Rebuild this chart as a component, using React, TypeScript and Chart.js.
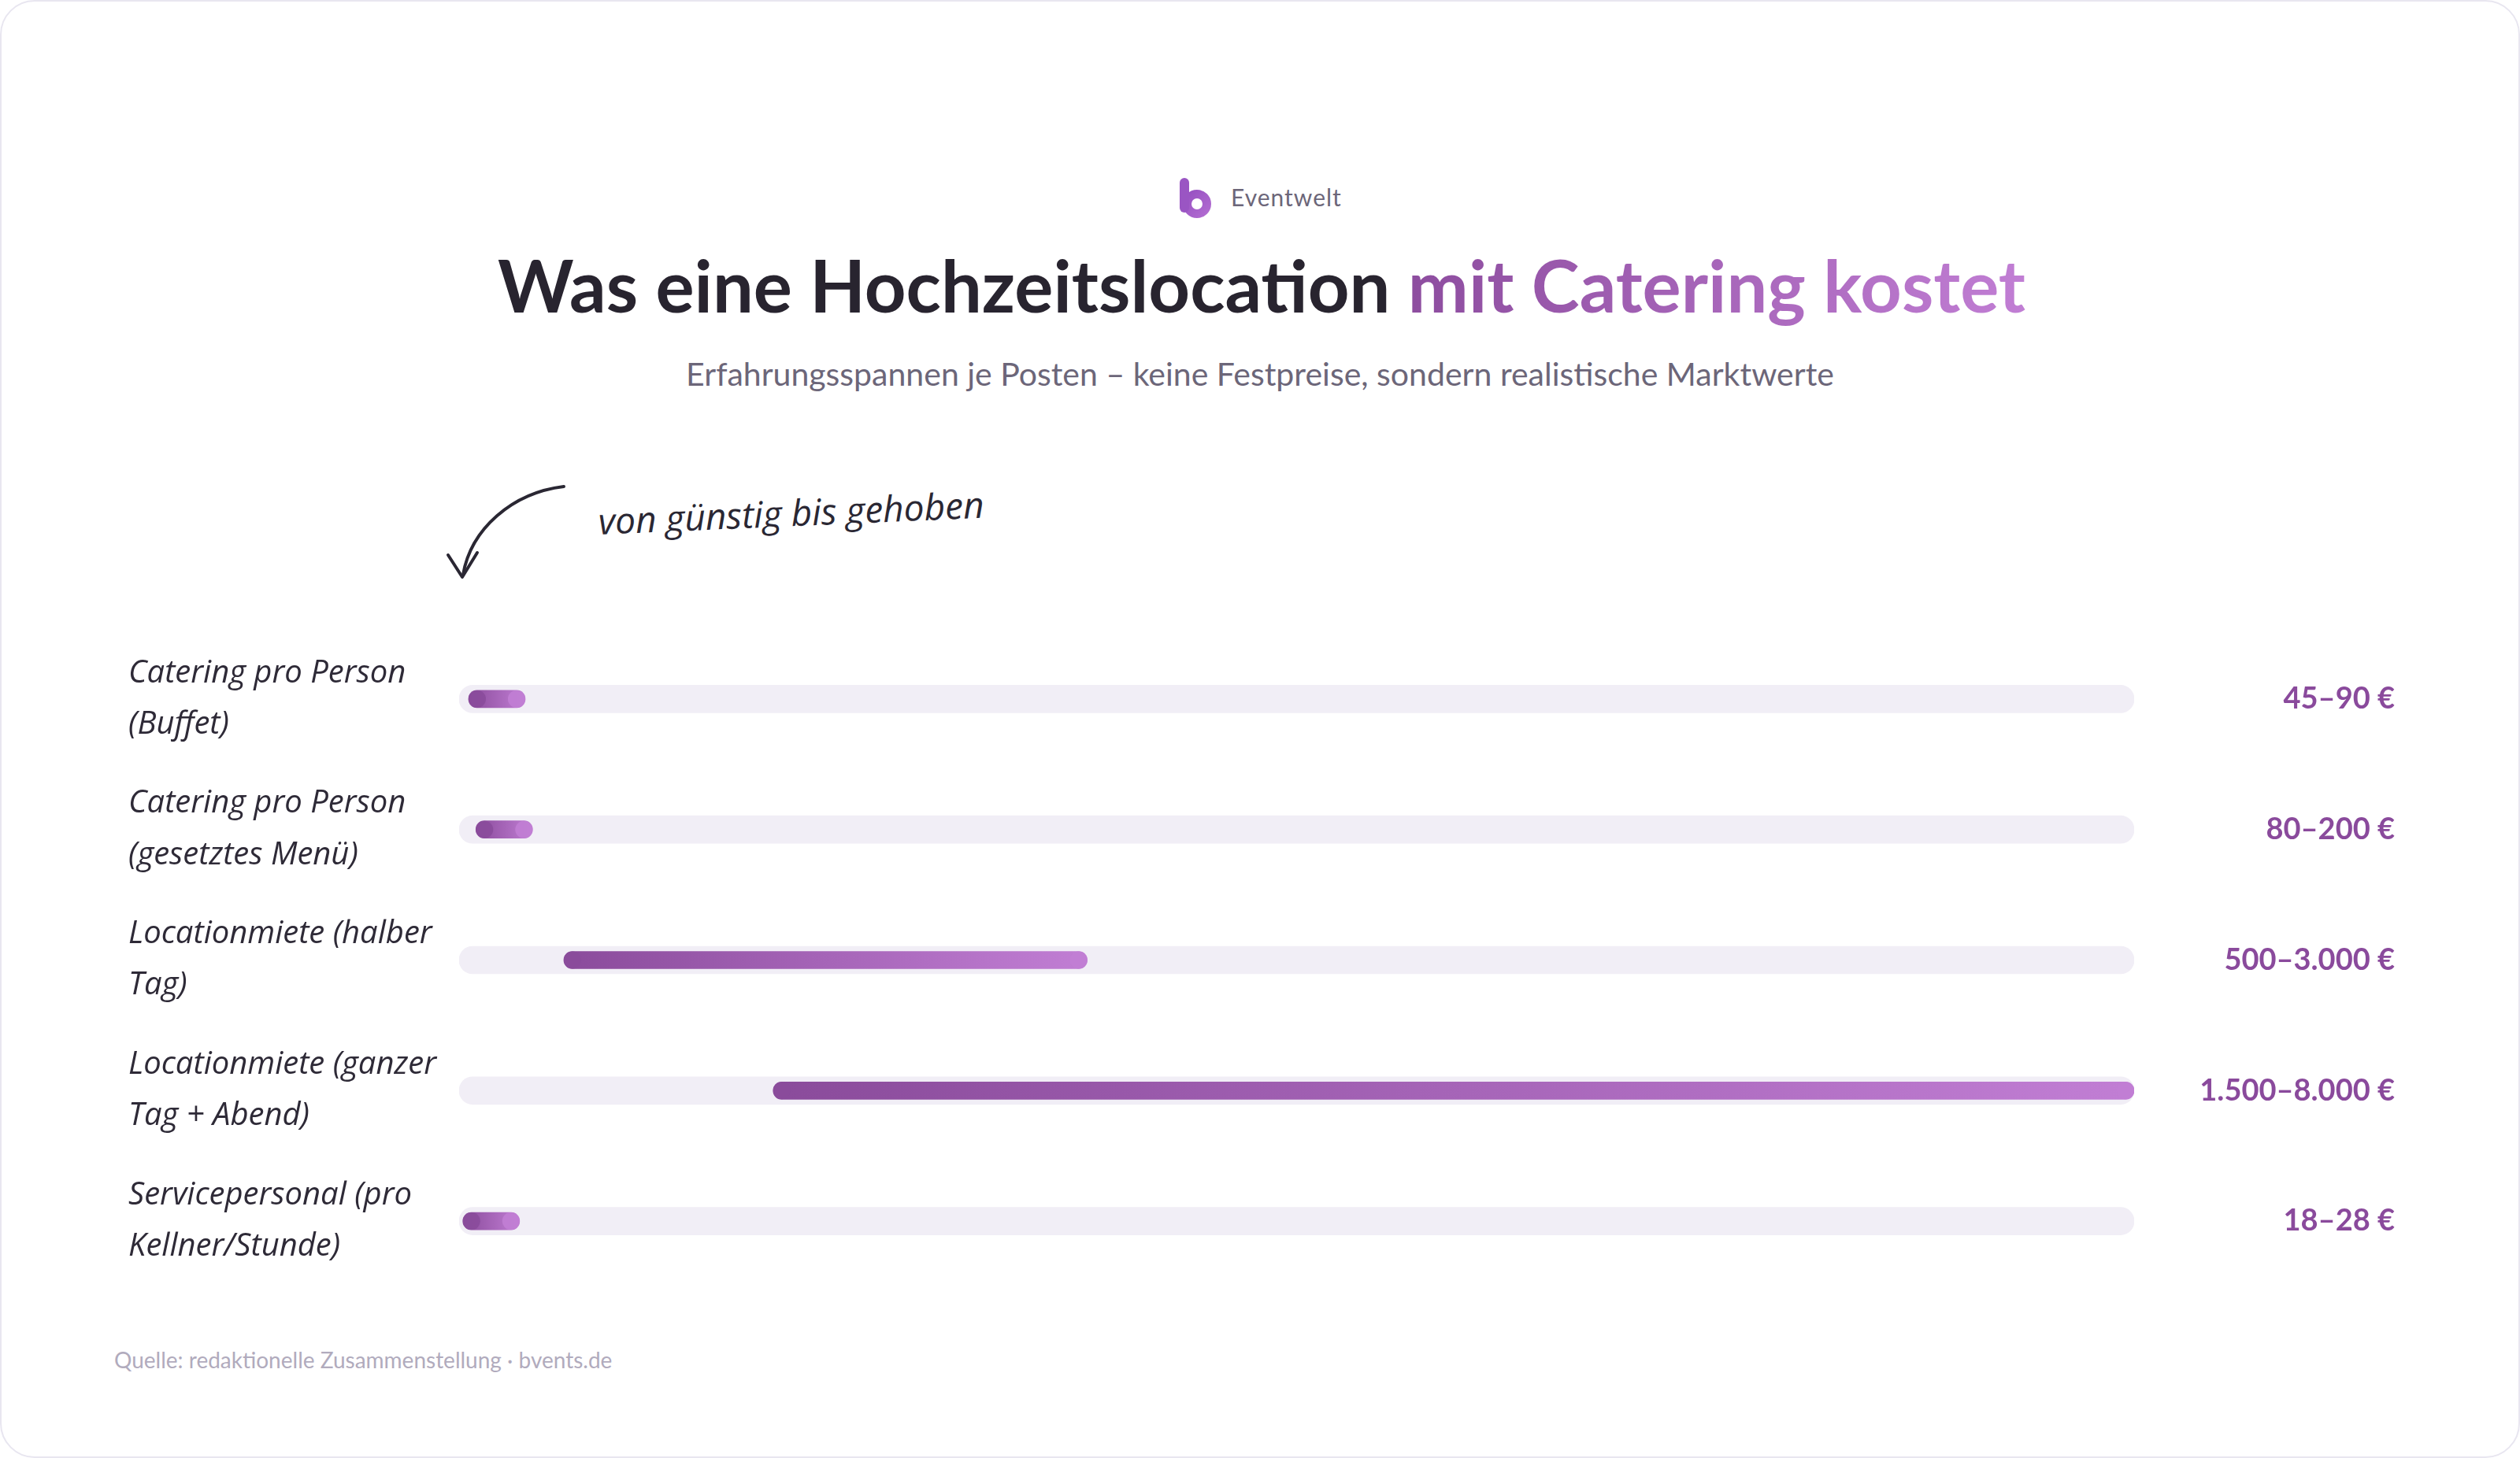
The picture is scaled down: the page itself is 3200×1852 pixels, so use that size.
import React, { useEffect, useRef } from 'react';
import { Chart, registerables } from 'chart.js';

Chart.register(...registerables);

// Cost items (two-line labels) and their price ranges in euro
const CATEGORIES: string[][] = [
  ['Catering pro Person', '(Buffet)'],
  ['Catering pro Person', '(gesetztes Menü)'],
  ['Locationmiete (halber', 'Tag)'],
  ['Locationmiete (ganzer', 'Tag + Abend)'],
  ['Servicepersonal (pro', 'Kellner/Stunde)'],
];
const RANGE_LOW: number[] = [45, 80, 500, 1500, 18];
const RANGE_HIGH: number[] = [90, 200, 3000, 8000, 28];

// Common value axis shared by all rows
const SCALE_MIN = 0;
const SCALE_MAX = 8000;

const formatThousands = (n: number) => String(n).replace(/\B(?=(\d{3})+(?!\d))/g, '.');
const VALUE_LABELS: string[] = RANGE_LOW.map(
  (lo, i) => `${formatThousands(lo)}–${formatThousands(RANGE_HIGH[i])} €`
);

const INK = '#28242f';
const MUTED = '#6c6679';
const PURPLE_DARK = '#8a4b9b';
const PURPLE_LIGHT = '#c17ed4';
const TRACK = '#f1eef6';
const VALUE_COLOR = '#8a4a9c';
const MIN_BAR_PX = 72;
const BAR_THICKNESS = 22;

// Gives short ranges a visible minimum length and paints each range with its own gradient
const rangeStyling = {
  id: 'rangeStyling',
  afterDatasetsUpdate(chart: any) {
    const meta = chart.getDatasetMeta(0);
    const ctx = chart.ctx as CanvasRenderingContext2D;
    meta.data.forEach((el: any) => {
      if (el.x - el.base < MIN_BAR_PX) el.x = el.base + MIN_BAR_PX;
      const g = ctx.createLinearGradient(el.base, 0, el.x, 0);
      g.addColorStop(0, PURPLE_DARK);
      g.addColorStop(1, PURPLE_LIGHT);
      el.options = Object.assign({}, el.options, { backgroundColor: g });
    });
  },
  afterDatasetDraw(chart: any, args: any) {
    if (args.index !== 0) return;
    const ctx = chart.ctx as CanvasRenderingContext2D;
    const r = BAR_THICKNESS / 2;
    args.meta.data.forEach((el: any) => {
      ctx.save();
      ctx.globalAlpha = 0.9;
      ctx.fillStyle = PURPLE_DARK;
      ctx.beginPath();
      ctx.arc(el.base + r, el.y, r, 0, Math.PI * 2);
      ctx.fill();
      ctx.fillStyle = PURPLE_LIGHT;
      ctx.beginPath();
      ctx.arc(el.x - r, el.y, r, 0, Math.PI * 2);
      ctx.fill();
      ctx.restore();
    });
  },
};

// Fixed label column widths; the tall two-line labels must not shrink the plot area
const fixedWidth = (w: number) => (scale: any) => {
  scale.width = w;
  scale.paddingTop = 0;
  scale.paddingBottom = 0;
};

export default function App() {
  const canvasRef = useRef<HTMLCanvasElement>(null);

  useEffect(() => {
    document.body.style.margin = '0';
    const canvas = canvasRef.current;
    if (!canvas) return;
    const chart = new Chart(canvas, {
      type: 'bar',
      data: {
        labels: CATEGORIES as any,
        datasets: [
          {
            label: 'Spanne',
            data: RANGE_LOW.map((lo, i) => [lo, RANGE_HIGH[i]]) as any,
            backgroundColor: PURPLE_DARK,
            barThickness: BAR_THICKNESS,
            borderRadius: BAR_THICKNESS / 2,
            borderSkipped: false,
            grouped: false,
            order: 1,
          },
          {
            label: 'Skala',
            data: RANGE_LOW.map(() => [SCALE_MIN, SCALE_MAX]) as any,
            backgroundColor: TRACK,
            barThickness: 35,
            borderRadius: 18,
            borderSkipped: false,
            grouped: false,
            order: 2,
          },
        ],
      },
      options: {
        indexAxis: 'y',
        responsive: false,
        devicePixelRatio: 1,
        animation: false,
        layout: { padding: { left: 163, right: 159, top: 25, bottom: 26 } },
        plugins: {
          legend: { display: false },
          tooltip: { enabled: false },
        },
        scales: {
          x: { type: 'linear', min: SCALE_MIN, max: SCALE_MAX, display: false },
          y: {
            type: 'category',
            position: 'left',
            offset: true,
            grid: { display: false },
            border: { display: false },
            ticks: {
              crossAlign: 'far',
              padding: 0,
              color: '#2e2a37',
              font: { family: "'Open Sans', sans-serif", style: 'italic', size: 40, lineHeight: 1.63 },
            },
            afterFit: fixedWidth(420),
          },
          yValues: {
            type: 'category',
            position: 'right',
            labels: VALUE_LABELS,
            offset: true,
            grid: { display: false },
            border: { display: false },
            ticks: {
              crossAlign: 'far',
              padding: 0,
              color: VALUE_COLOR,
              font: { family: 'Lato, sans-serif', weight: 'bold', size: 38 },
            },
            afterFit: fixedWidth(331),
          },
        } as any,
      },
      plugins: [rangeStyling],
    });
    return () => chart.destroy();
  }, []);

  return (
    <div
      style={{
        position: 'absolute',
        left: 0,
        top: 0,
        width: 3200,
        height: 1852,
        background: '#ffffff',
        overflow: 'hidden',
        fontFamily: 'Lato, sans-serif',
      }}
    >
      <div
        style={{
          position: 'absolute',
          left: 0,
          top: 0,
          width: 3200,
          height: 1852,
          border: '2px solid #e8e6f0',
          borderRadius: 44,
          boxSizing: 'border-box',
        }}
      />
      <svg
        width={3200}
        height={1852}
        viewBox="0 0 3200 1852"
        style={{ position: 'absolute', left: 0, top: 0 }}
      >
        <defs>
          <linearGradient id="logoGrad" x1="0" y1="0" x2="1" y2="1">
            <stop offset="0" stopColor="#9852c2" />
            <stop offset="1" stopColor="#b06ad0" />
          </linearGradient>
        </defs>
        {/* brand mark */}
        <circle cx={1520} cy={259} r={12.5} fill="none" stroke="url(#logoGrad)" strokeWidth={11} />
        <rect x={1498} y={226} width={12} height={44} rx={6} fill="#9a55c3" />
        {/* hand-drawn pointer */}
        <path
          d="M716 618 C 650 626, 598 672, 588 730"
          fill="none"
          stroke="#2a2733"
          strokeWidth={4}
          strokeLinecap="round"
        />
        <path
          d="M569 705 L 587 733 L 606 702"
          fill="none"
          stroke="#2a2733"
          strokeWidth={4}
          strokeLinecap="round"
          strokeLinejoin="round"
        />
      </svg>
      <div
        style={{
          position: 'absolute',
          left: 1563,
          top: 235,
          fontSize: 30,
          lineHeight: '30px',
          color: MUTED,
          letterSpacing: 1,
          whiteSpace: 'nowrap',
        }}
      >
        Eventwelt
      </div>
      <div
        style={{
          position: 'absolute',
          left: 2,
          top: 316,
          width: 3200,
          textAlign: 'center',
          fontSize: 92,
          lineHeight: '92px',
          fontWeight: 700,
          color: INK,
          whiteSpace: 'nowrap',
        }}
      >
        Was eine Hochzeitslocation{' '}
        <span
          style={{
            background: `linear-gradient(90deg, #8d4d9f, ${PURPLE_LIGHT})`,
            WebkitBackgroundClip: 'text',
            backgroundClip: 'text',
            color: 'transparent',
          }}
        >
          mit Catering kostet
        </span>
      </div>
      <div
        style={{
          position: 'absolute',
          left: 0,
          top: 454,
          width: 3200,
          textAlign: 'center',
          fontSize: 41,
          lineHeight: '41px',
          color: MUTED,
          whiteSpace: 'nowrap',
        }}
      >
        Erfahrungsspannen je Posten – keine Festpreise, sondern realistische Marktwerte
      </div>
      <div
        style={{
          position: 'absolute',
          left: 761,
          top: 634,
          fontFamily: "'Open Sans', sans-serif",
          fontStyle: 'italic',
          fontSize: 46,
          lineHeight: '54px',
          color: '#2a2733',
          whiteSpace: 'nowrap',
          transform: 'rotate(-2.5deg)',
          transformOrigin: '0 100%',
        }}
      >
        von günstig bis gehoben
      </div>
      <canvas
        ref={canvasRef}
        width={3200}
        height={880}
        style={{ position: 'absolute', left: 0, top: 780, width: 3200, height: 880 }}
      />
      <div
        style={{
          position: 'absolute',
          left: 145,
          top: 1713,
          fontSize: 28,
          lineHeight: '28px',
          color: '#b1abbd',
          whiteSpace: 'nowrap',
        }}
      >
        Quelle: redaktionelle Zusammenstellung · bvents.de
      </div>
    </div>
  );
}
